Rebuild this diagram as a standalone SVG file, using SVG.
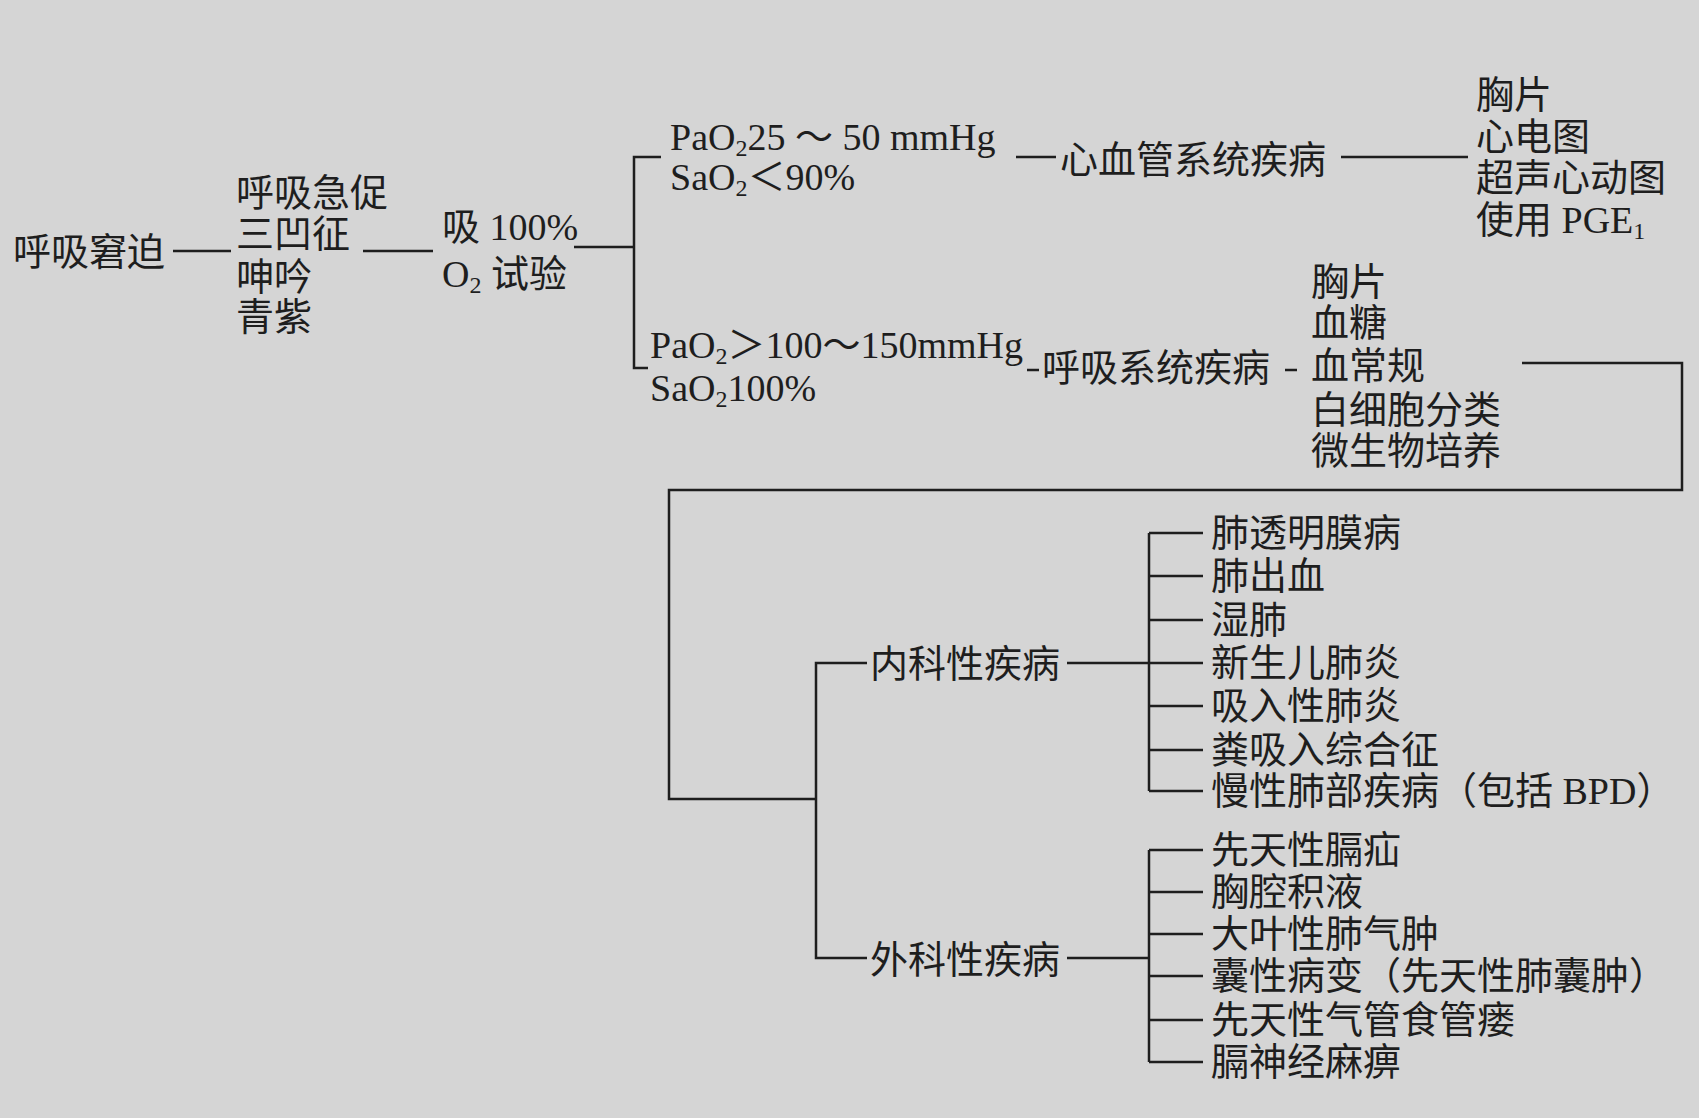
<svg xmlns="http://www.w3.org/2000/svg" width="1699" height="1118" viewBox="0 0 1699 1118">
<style>
text{font-family:"Liberation Serif","Noto Sans CJK SC",serif;font-size:38px;fill:#1e1e1e}
.s{font-size:24px}
line,polyline{stroke:#1e1e1e;stroke-width:2.5;fill:none}
</style>
<rect width="1699" height="1118" fill="#d5d5d5"/>
<g id="connectors">
<line x1="173" y1="251" x2="231" y2="251"/>
<line x1="363" y1="251" x2="433" y2="251"/>
<line x1="574" y1="247" x2="634" y2="247"/>
<polyline points="661,157 634,157 634,368 648,368"/>
<line x1="1016" y1="157" x2="1056" y2="157"/>
<line x1="1341" y1="157" x2="1468" y2="157"/>
<line x1="1027" y1="370" x2="1039" y2="370"/>
<line x1="1285" y1="370" x2="1297" y2="370"/>
<polyline points="1522,363 1682,363 1682,490 669,490 669,799 816,799"/>
<polyline points="867,663 816,663 816,958 867,958"/>
<line x1="1067" y1="663" x2="1149" y2="663"/>
<line x1="1149" y1="533" x2="1149" y2="791"/>
<line x1="1149" y1="533" x2="1203" y2="533"/>
<line x1="1149" y1="576" x2="1203" y2="576"/>
<line x1="1149" y1="620" x2="1203" y2="620"/>
<line x1="1149" y1="663" x2="1203" y2="663"/>
<line x1="1149" y1="706" x2="1203" y2="706"/>
<line x1="1149" y1="750" x2="1203" y2="750"/>
<line x1="1149" y1="791" x2="1203" y2="791"/>
<line x1="1067" y1="958" x2="1149" y2="958"/>
<line x1="1149" y1="850" x2="1149" y2="1062"/>
<line x1="1149" y1="850" x2="1203" y2="850"/>
<line x1="1149" y1="892" x2="1203" y2="892"/>
<line x1="1149" y1="934" x2="1203" y2="934"/>
<line x1="1149" y1="976" x2="1203" y2="976"/>
<line x1="1149" y1="1020" x2="1203" y2="1020"/>
<line x1="1149" y1="1062" x2="1203" y2="1062"/>
</g>
<g id="n1"><text x="13" y="265">呼吸窘迫</text></g>
<g id="n2"><text x="236" y="206">呼吸急促</text><text x="236" y="247">三凹征</text><text x="236" y="290">呻吟</text><text x="236" y="330">青紫</text></g>
<g id="n3"><text x="442" y="240">吸 100%</text><text x="442" y="287">O<tspan class="s" dy="6">2</tspan><tspan dy="-6"> 试验</tspan></text></g>
<g id="n4"><text x="670" y="150">PaO<tspan class="s" dy="6">2</tspan><tspan dy="-6">25 ～ 50 mmHg</tspan></text><text x="670" y="190">SaO<tspan class="s" dy="6">2</tspan><tspan dy="-6">＜90%</tspan></text></g>
<g id="n5"><text x="1060" y="173">心血管系统疾病</text></g>
<g id="n6"><text x="1476" y="108">胸片</text><text x="1476" y="150">心电图</text><text x="1476" y="191">超声心动图</text><text x="1476" y="233">使用 PGE<tspan class="s" dy="6">1</tspan></text></g>
<g id="n7"><text x="650" y="358">PaO<tspan class="s" dy="6">2</tspan><tspan dy="-6">＞100～150mmHg</tspan></text><text x="650" y="401">SaO<tspan class="s" dy="6">2</tspan><tspan dy="-6">100%</tspan></text></g>
<g id="n8"><text x="1042" y="381">呼吸系统疾病</text></g>
<g id="n9"><text x="1311" y="295">胸片</text><text x="1311" y="336">血糖</text><text x="1311" y="379">血常规</text><text x="1311" y="423">白细胞分类</text><text x="1311" y="464">微生物培养</text></g>
<g id="n10"><text x="870" y="677">内科性疾病</text></g>
<g id="n11"><text x="870" y="973">外科性疾病</text></g>
<g id="n12"><text x="1211" y="546">肺透明膜病</text><text x="1211" y="589">肺出血</text><text x="1211" y="633">湿肺</text><text x="1211" y="676">新生儿肺炎</text><text x="1211" y="719">吸入性肺炎</text><text x="1211" y="763">粪吸入综合征</text><text x="1211" y="804">慢性肺部疾病（包括 BPD）</text></g>
<g id="n13"><text x="1211" y="863">先天性膈疝</text><text x="1211" y="905">胸腔积液</text><text x="1211" y="947">大叶性肺气肿</text><text x="1211" y="989">囊性病变（先天性肺囊肿）</text><text x="1211" y="1033">先天性气管食管瘘</text><text x="1211" y="1075">膈神经麻痹</text></g>
</svg>
